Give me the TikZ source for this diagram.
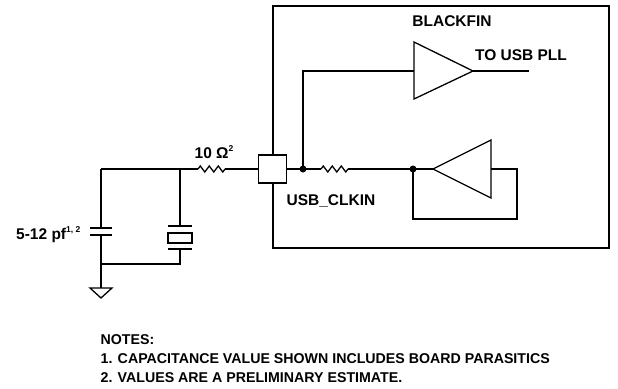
\documentclass[tikz,border=0pt]{standalone}
\usepackage{fontspec}
\setmainfont{Liberation Sans}
\newcommand{\supnote}[1]{\raisebox{0.75ex}{\fontsize{8.5}{9}\selectfont #1}}
\begin{document}
\begin{tikzpicture}[x=1pt, y=-1pt, line width=1.3pt,
    font=\bfseries\fontsize{15.5}{18}\selectfont,
    dot/.style={circle, fill, inner sep=0pt, minimum size=7pt},
    res/.pic={\draw (0,0)--(2.25,-3)--(6.75,3)--(11.25,-3)--(15.75,3)--(20.25,-3)--(24.75,3)--(27,0);}]
\useasboundingbox (0,0) rectangle (618,388);
% chip
\draw (273,6) rectangle (609,248);
\node[anchor=base] (chip) at (452,26) {BLACKFIN};
\node[draw, fill=white, minimum size=28pt, inner sep=0pt] (pad) at (272.5,169) {};
\node[anchor=base] (clkin) at (331,205) {USB\_CLKIN};
% external part
\coordinate (cl) at (101,169);
\coordinate (xj) at (180,169);
\coordinate (r1) at (198,169);
\draw (cl)--(r1) pic{res} ++(27,0)--(pad.west);
\node[anchor=base] (rlbl) at (214,158) {10 Ω\supnote{2}};
% capacitor and ground
\draw (cl)--(101,228) (90,228)--(112,228) (90,235)--(112,235) (101,235)--(101,288);
\draw (90,288)--(112,288)--(101,298)--cycle;
\node[anchor=base east, inner sep=0pt] (clbl) at (81,239) {5-12 pf\supnote{1, 2}};
% crystal
\draw (xj)--(180,226) (168,226)--(192,226) (168,249)--(192,249);
\draw (168,233) rectangle (192,243);
\draw (180,249)--(180,264)--(101,264);
% inside
\coordinate (d1) at (303,169);
\coordinate (d2) at (413,169);
\node[dot] at (d1) {};
\node[dot] at (d2) {};
\draw (pad.east)--(d1)--(321,169) pic{res} ++(27,0)--(d2)--(433,169);
\draw (d1)--(303,71)--(414,71);
\draw (414,42)--(414,99)--(473,71)--cycle;
\draw (473,71)--(529,71);
\node[anchor=base] (pll) at (521,60) {TO USB PLL};
\draw (433,169)--(491,140)--(491,198)--cycle;
\draw (491,169)--(517,169)--(517,219)--(413,219)--(d2);
% notes
\node[anchor=base west, align=left, inner sep=0pt, font=\bfseries\fontsize{14.2}{18.7}\selectfont] (notes) at (100,382)
 {NOTES:\\1. CAPACITANCE VALUE SHOWN INCLUDES BOARD PARASITICS\\2. VALUES ARE A PRELIMINARY ESTIMATE.};
\end{tikzpicture}
\end{document}
